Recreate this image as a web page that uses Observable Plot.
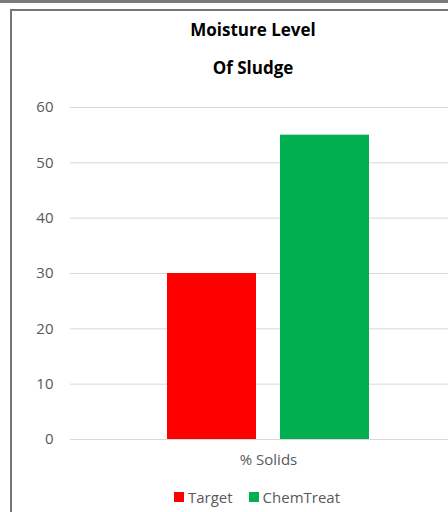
<!DOCTYPE html>
<html>
<head>
<meta charset="utf-8">
<script src="https://cdn.jsdelivr.net/npm/d3@7"></script>
<script src="https://cdn.jsdelivr.net/npm/@observablehq/plot@0.6"></script>
<style>
  html, body { margin: 0; padding: 0; background: #fff; width: 448px; height: 512px; overflow: hidden; position: relative; }
  #topline { position: absolute; left: 0; top: 0; width: 448px; height: 3px; background: #7a7a7a; }
  #frame { position: absolute; left: 10px; top: 9px; width: 482px; height: 520px;
           border-left: 2px solid #767676; border-top: 2px solid #767676; background: #fff; }
  #title { text-align: center; font-family: "Open Sans", sans-serif; font-weight: bold; font-size: 17px;
           line-height: 38px; color: #000; }
  #legend { display: flex; justify-content: center; align-items: center; gap: 16px; margin-top: 5px;
            font-family: "Open Sans", sans-serif; font-size: 15px; color: #595959; padding-left: 8px; }
  .item { display: flex; align-items: center; gap: 4px; }
  .sw { width: 10px; height: 10px; display: inline-block; }
</style>
</head>
<body>
<div id="topline"></div>
<div id="frame">
  <div id="title"><div>Moisture Level</div><div>Of Sludge</div></div>
  <div id="chart"></div>
  <div id="legend"></div>
</div>
<script>
const categories = ["% Solids"];
const seriesNames = ["Target", "ChemTreat"];
const seriesValues = [30, 55];
const seriesColors = ["#FF0000", "#00B050"];
const yTicks = [0, 10, 20, 30, 40, 50, 60];

const data = seriesNames.map((s, i) => ({category: categories[0], series: s, value: seriesValues[i]}));

const chart = Plot.plot({
  width: 482,
  height: 395,
  marginLeft: 58,
  marginRight: 28,
  marginTop: 20,
  marginBottom: 43,
  style: {fontFamily: "'Open Sans', sans-serif", fontSize: "15px", color: "#595959", background: "transparent"},
  fx: {domain: categories, padding: 0, label: null, axis: "bottom", tickSize: 0, tickPadding: 15},
  x: {domain: seriesNames, paddingInner: 0.212, paddingOuter: 0.858, axis: null},
  y: {domain: [0, 60], axis: null},
  color: {domain: seriesNames, range: seriesColors},
  marks: [
    Plot.gridY(yTicks, {stroke: "#d9d9d9", strokeOpacity: 1, strokeWidth: 1}),
    Plot.axisY(yTicks, {tickSize: 0, tickPadding: 17, label: null, fill: "#595959"}),
    Plot.barY(data, {fx: "category", x: "series", y: "value", fill: "series"})
  ]
});
document.getElementById("chart").appendChild(chart);

const legend = document.getElementById("legend");
seriesNames.forEach((s, i) => {
  const item = document.createElement("div");
  item.className = "item";
  const sw = document.createElement("span");
  sw.className = "sw";
  sw.style.background = seriesColors[i];
  const t = document.createElement("span");
  t.textContent = s;
  item.appendChild(sw);
  item.appendChild(t);
  legend.appendChild(item);
});
</script>
</body>
</html>
